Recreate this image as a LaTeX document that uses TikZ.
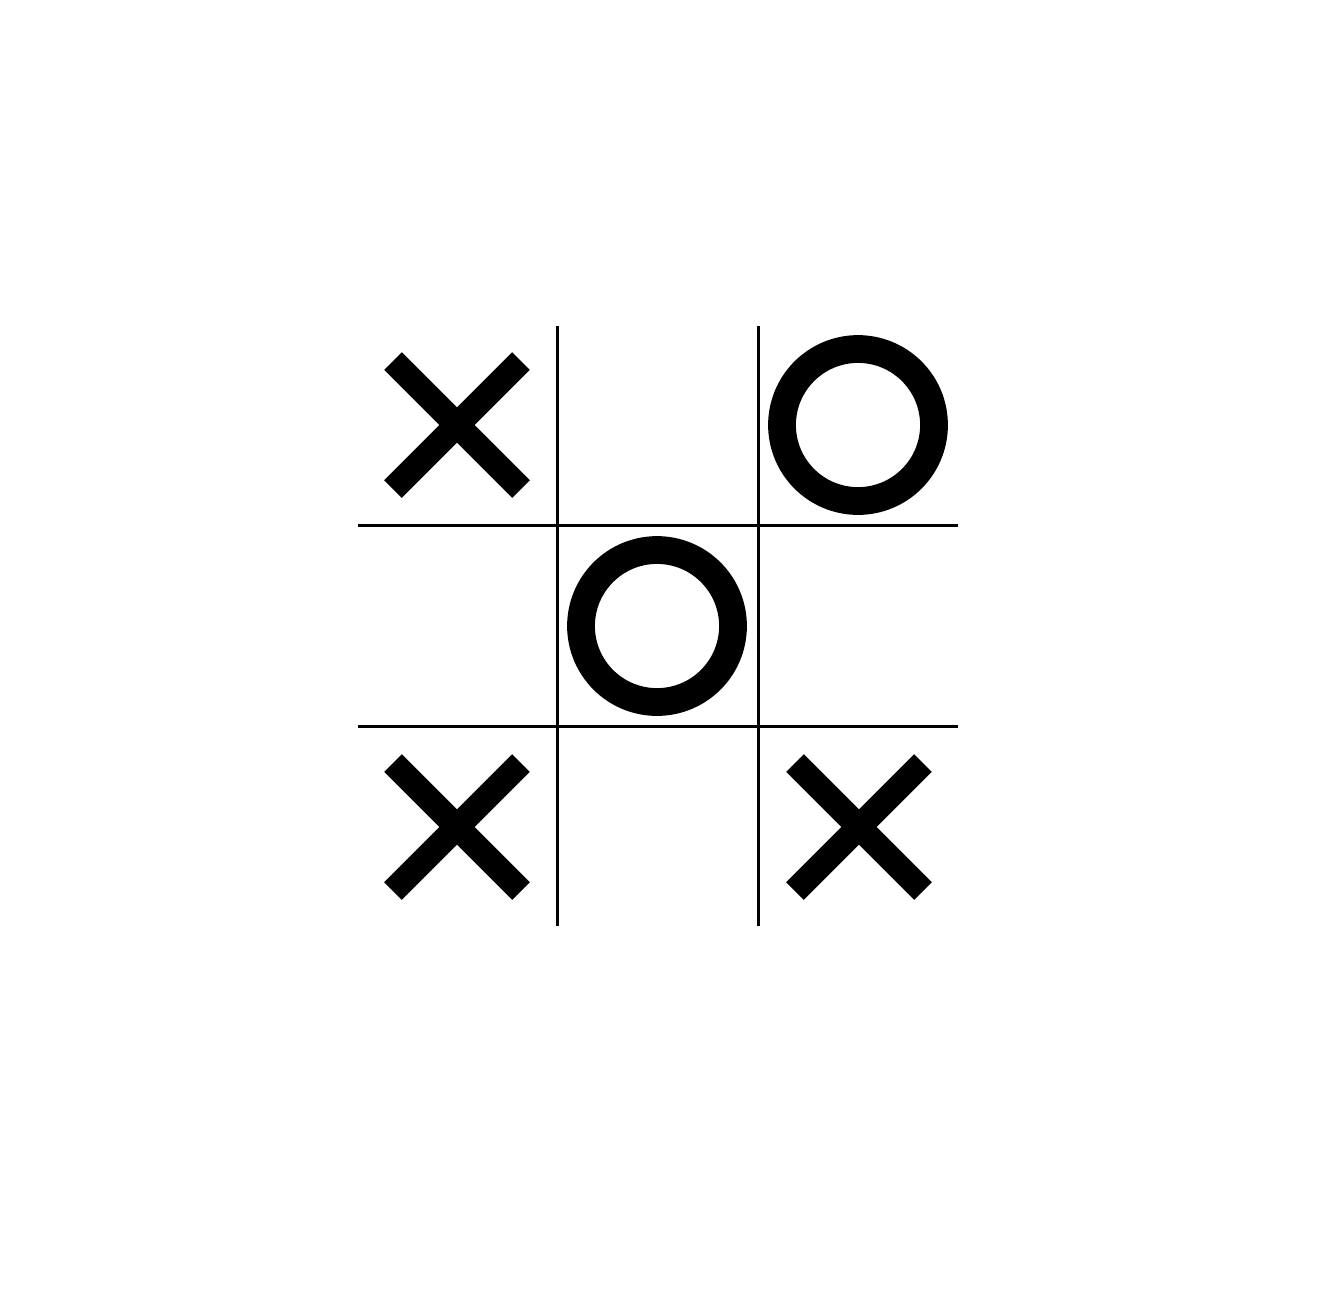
\documentclass[tikz,border=0pt]{standalone}
\usetikzlibrary{calc}
\begin{document}
\begin{tikzpicture}[x=0.01cm,y=-0.01cm,
  gridline/.style={line width=0.85pt,black},
  xmark/.style={line width=7.1pt,black,line cap=butt},
  omark/.style={line width=7.9pt,black}]
\fill[white] (0,0) rectangle (1331,1296);
\useasboundingbox (0,0) rectangle (1331,1296);
% grid
\draw[gridline] (557,326) -- (557,926);
\draw[gridline] (758,326) -- (758,926);
\draw[gridline] (358,525) -- (958,525);
\draw[gridline] (358,726) -- (958,726);
% X marks
\foreach \cx/\cy/\n in {457/425/a,457/827/b,859/827/c}{
  \coordinate (x\n) at (\cx,\cy);
  \draw[xmark] ($(x\n)+(-64,-64)$) -- ($(x\n)+(64,64)$);
  \draw[xmark] ($(x\n)+(-64,64)$) -- ($(x\n)+(64,-64)$);
}
% O marks
\coordinate (oa) at (858,425);
\coordinate (ob) at (657,626);
\draw[omark] (oa) circle[radius=76];
\draw[omark] (ob) circle[radius=76];
\end{tikzpicture}
\end{document}
